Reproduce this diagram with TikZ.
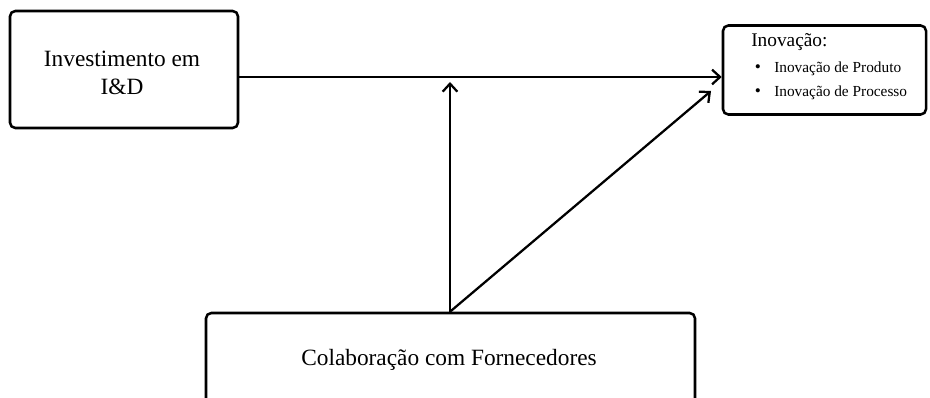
\documentclass[tikz,border=0pt]{standalone}
\usepackage{fontspec}
\setmainfont{Liberation Serif}
\usetikzlibrary{arrows.meta}
\begin{document}
\begin{tikzpicture}[x=0.75pt,y=-0.75pt,
  boxstyle/.style={draw=black,line width=1.9pt,rounded corners=4pt,inner sep=0pt,fill=white},
  arr/.style={line width=1.7pt,-{Straight Barb[length=6pt,width=11pt,line width=1.7pt]}},
  bigtext/.style={font=\fontsize{17.5}{21}\selectfont,inner sep=0pt},
  smalltext/.style={font=\fontsize{11.5}{14}\selectfont,inner sep=0pt,anchor=west},
  bulletstyle/.style={font=\fontsize{13}{14}\selectfont,inner sep=0pt}]
\useasboundingbox (0,0) rectangle (930,398);
\clip (0,0) rectangle (930,398);
% boxes
\node[boxstyle,minimum width=228*0.75pt,minimum height=117*0.75pt] (rd) at (124,69.5) {};
\node[boxstyle,minimum width=203*0.75pt,minimum height=89*0.75pt] (inov) at (824.5,70) {};
\node[boxstyle,minimum width=489*0.75pt,minimum height=96*0.75pt] (colab) at (450.5,361) {};
% texts
\node[bigtext,align=center] (rdtext) at (122,72.5) {Investimento em\\I\&D};
\node[bigtext] (colabtext) at (449,360) {Colaboração com Fornecedores};
\node[font=\fontsize{14.5}{17}\selectfont,inner sep=0pt,anchor=west] (inovtitle) at (751,42) {Inovação:};
\node[bulletstyle] (b1) at (758,68.5) {\textbullet};
\node[smalltext] (i1) at (774,68.5) {Inovação de Produto};
\node[bulletstyle] (b2) at (758,92.5) {\textbullet};
\node[smalltext] (i2) at (774,92.5) {Inovação de Processo};
% connector points
\coordinate (hstart) at (rd.east |- 0,77);
\coordinate (hend) at (inov.west |- 0,77);
\coordinate (cstart) at (colab.north -| 450,0);
\coordinate (vtip) at (450,82);
\coordinate (dtip) at (711,91);
% connectors
\draw[arr] (hstart) -- (hend);
\draw[arr] (cstart) -- (vtip);
\draw[arr] (cstart) -- (dtip);
\end{tikzpicture}
\end{document}
